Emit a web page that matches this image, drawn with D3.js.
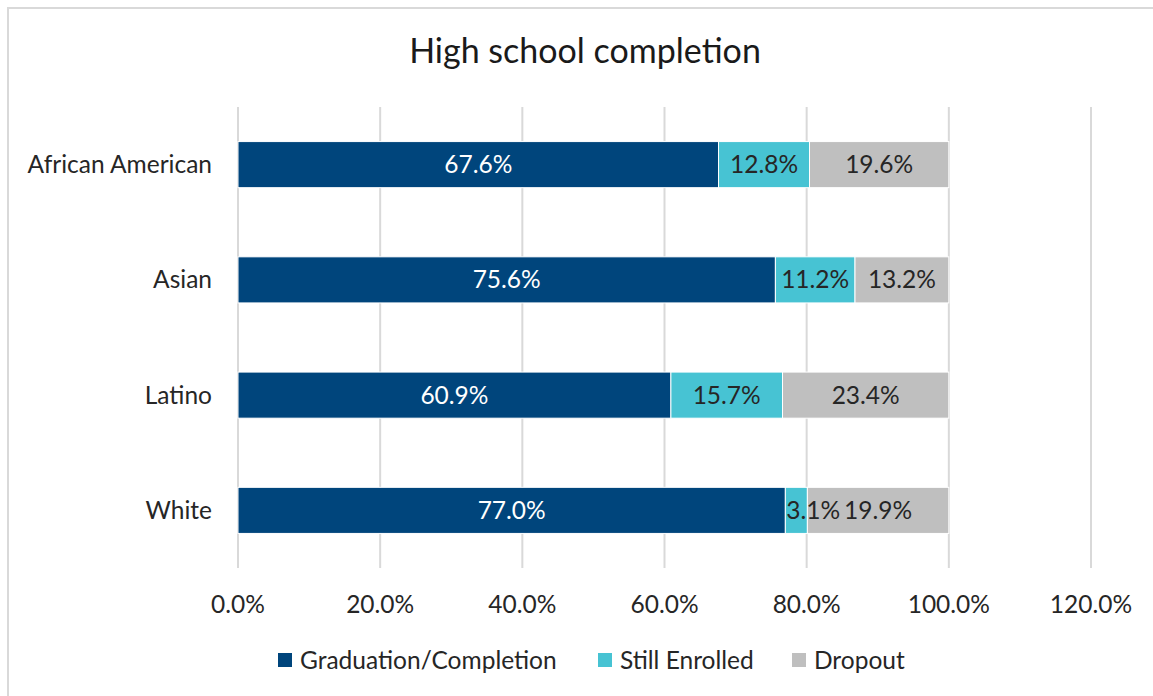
<!DOCTYPE html>
<html>
<head>
<meta charset="utf-8">
<script src="https://cdn.jsdelivr.net/npm/d3@7"></script>
<style>
  body { margin: 0; background: #fff; }
  svg { font-family: Lato, "Open Sans", sans-serif; }
</style>
</head>
<body>
<div id="chart"></div>
<script>
// data
const categories = ["African American", "Asian", "Latino", "White"];
const seriesNames = ["Graduation/Completion", "Still Enrolled", "Dropout"];
const graduation = [67.6, 75.6, 60.9, 77.0];
const stillEnrolled = [12.8, 11.2, 15.7, 3.1];
const dropout = [19.6, 13.2, 23.4, 19.9];
const xTicks = [0, 20, 40, 60, 80, 100, 120];

const colors = ["#00457c", "#47c3d3", "#bfbfbf"];
const labelColors = ["#ffffff", "#262626", "#262626"];

const w = 1153;
const h = 696;
const plotLeft = 238, plotRight = 1091, plotTop = 107, plotBottom = 568;
const fontSize = 24.5;

// rows for stacking
const rows = categories.map((c, i) => ({
    category: c,
    "Graduation/Completion": graduation[i],
    "Still Enrolled": stillEnrolled[i],
    "Dropout": dropout[i]
}));
const stacked = d3.stack().keys(seriesNames)(rows);

const x = d3.scaleLinear().domain([0, 120]).range([plotLeft, plotRight]);
const y = d3.scaleBand().domain(categories).range([plotTop, plotBottom])
    .paddingInner(0.6).paddingOuter(0.3);

const svg = d3.select("#chart").append("svg")
    .attr("width", w)
    .attr("height", h);

// outer chart border (runs off the right and bottom)
svg.append("rect")
    .attr("x", 8).attr("y", 8)
    .attr("width", 1170).attr("height", 710)
    .attr("fill", "none")
    .attr("stroke", "#d9d9d9")
    .attr("stroke-width", 2);

// title
svg.append("text")
    .attr("x", 585).attr("y", 63)
    .attr("text-anchor", "middle")
    .attr("font-size", 34)
    .attr("fill", "#1a1a1a")
    .text("High school completion");

// gridlines
svg.append("g")
    .selectAll("line")
    .data(xTicks)
    .join("line")
    .attr("x1", d => x(d)).attr("x2", d => x(d))
    .attr("y1", plotTop).attr("y2", plotBottom)
    .attr("stroke", "#d9d9d9")
    .attr("stroke-width", 2);

// x tick labels
svg.append("g")
    .selectAll("text")
    .data(xTicks)
    .join("text")
    .attr("x", d => x(d))
    .attr("y", 613)
    .attr("text-anchor", "middle")
    .attr("font-size", fontSize)
    .attr("fill", "#262626")
    .text(d => d.toFixed(1) + "%");

// category labels
svg.append("g")
    .selectAll("text")
    .data(categories)
    .join("text")
    .attr("x", 212)
    .attr("y", d => y(d) + y.bandwidth() / 2)
    .attr("dy", "0.35em")
    .attr("text-anchor", "end")
    .attr("font-size", fontSize)
    .attr("fill", "#262626")
    .text(d => d);

// bars
const layers = svg.append("g")
    .selectAll("g")
    .data(stacked)
    .join("g")
    .attr("fill", (d, i) => colors[i]);

layers.selectAll("rect")
    .data(d => d)
    .join("rect")
    .attr("x", d => x(d[0]))
    .attr("y", d => y(d.data.category))
    .attr("width", d => x(d[1]) - x(d[0]))
    .attr("height", y.bandwidth())
    .attr("stroke", "#ffffff")
    .attr("stroke-width", 1);

// value labels, drawn above all bars
const labelData = stacked.flatMap((s, i) => s.map(v => ({ v, i, key: s.key })));
svg.append("g")
    .selectAll("text")
    .data(labelData)
    .join("text")
    .attr("y", d => y(d.v.data.category) + y.bandwidth() / 2)
    .attr("dy", "0.35em")
    .attr("font-size", fontSize)
    .attr("fill", d => labelColors[d.i])
    .text(d => d.v.data[d.key].toFixed(1) + "%")
    .each(function (d) {
        const t = d3.select(this);
        const segW = x(d.v[1]) - x(d.v[0]);
        const tw = this.getComputedTextLength();
        if (tw > segW) {
            // too narrow: start at the segment's left edge
            t.attr("x", x(d.v[0]) + 1).attr("text-anchor", "start");
        } else {
            t.attr("x", (x(d.v[0]) + x(d.v[1])) / 2).attr("text-anchor", "middle");
        }
    });

// legend
const legendX = [278, 598, 792];
const legend = svg.append("g")
    .selectAll("g")
    .data(seriesNames)
    .join("g")
    .attr("transform", (d, i) => `translate(${legendX[i]},660)`);

legend.append("rect")
    .attr("x", 0).attr("y", -7)
    .attr("width", 14).attr("height", 14)
    .attr("fill", (d, i) => colors[i]);

legend.append("text")
    .attr("x", 22)
    .attr("dy", "0.35em")
    .attr("font-size", fontSize)
    .attr("fill", "#262626")
    .text(d => d);
</script>
</body>
</html>
